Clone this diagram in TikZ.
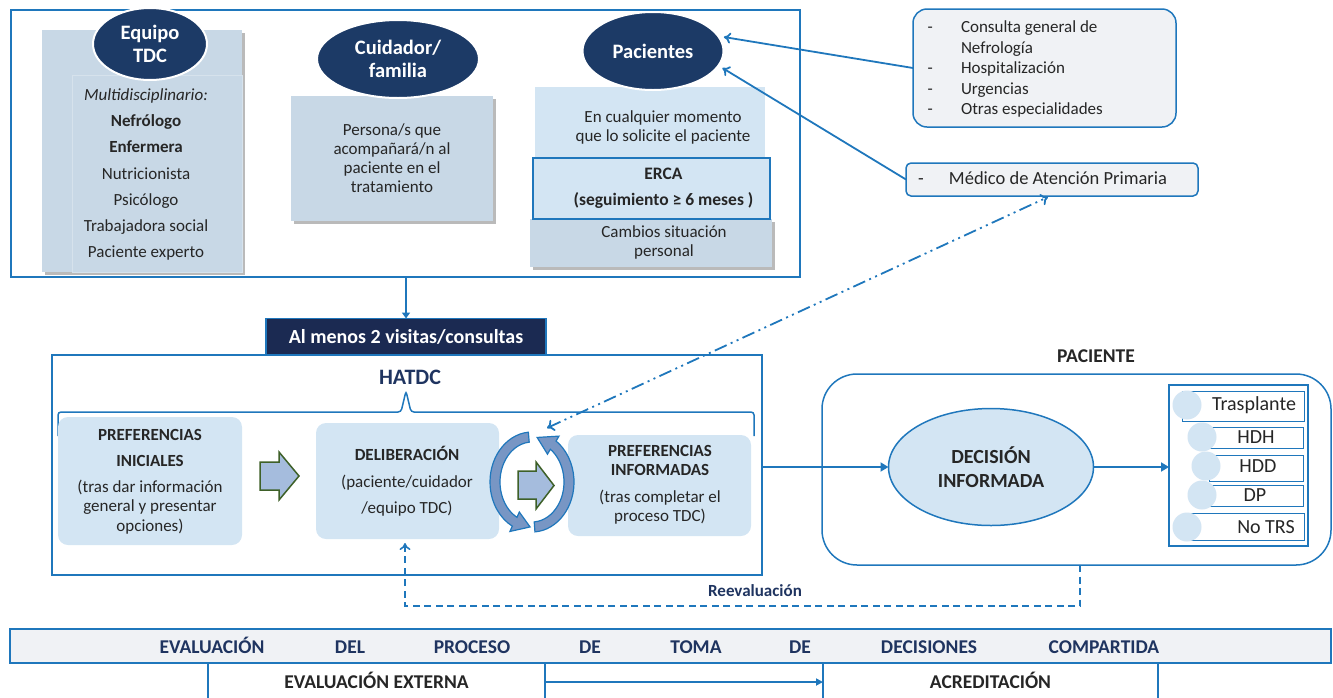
\documentclass[tikz,border=0pt]{standalone}
\usepackage{fontspec}
\setmainfont{Carlito}
\usetikzlibrary{arrows.meta,shapes.geometric,shadows}

\definecolor{tdcblue}{RGB}{31,119,188}
\definecolor{tdcnavy}{RGB}{28,58,102}
\definecolor{tdcdark}{RGB}{27,42,82}
\definecolor{tdctext}{RGB}{31,52,96}
\definecolor{tdcpanel}{RGB}{200,216,230}
\definecolor{tdclight}{RGB}{211,229,243}
\definecolor{tdcgray}{RGB}{240,242,245}
\definecolor{tdcarrow}{RGB}{165,188,221}
\definecolor{tdcgreen}{RGB}{62,96,40}
\definecolor{tdccycle}{RGB}{120,150,196}
\definecolor{tdcink}{RGB}{38,38,38}

\newcommand{\fsz}[2]{\fontsize{#1}{#2}\selectfont}

\begin{document}
\begin{tikzpicture}[x=1pt,y=-1pt,
		every node/.style={inner sep=0pt, outer sep=0pt, text=tdcink},
		frame/.style={draw=tdcblue, line width=1.8pt},
		panel/.style={fill=tdcpanel, drop shadow={shadow xshift=2.5pt, shadow yshift=-2.5pt, fill=black!60, opacity=.45}},
		soft/.style={fill=tdclight, rounded corners=10pt},
		head/.style={ellipse, fill=tdcnavy, draw=white, line width=2pt, text=white, font=\fsz{20.5}{23.5}\bfseries, align=center},
		body/.style={font=\fsz{17}{19}, align=center},
		caps/.style={font=\fsz{19.5}{22}\bfseries, text height=12.6pt, text depth=0pt},
		link/.style={tdcblue, line width=1.8pt},
		option/.style={draw=tdcblue, line width=1pt, fill=white},
		bullet/.style={circle, fill=tdclight, minimum size=29pt},
		bandword/.style={caps, text=tdctext},
		blockarrow/.style={draw=tdcgreen, line width=1.5pt, fill=tdcarrow},
		cyclearrow/.style={draw=tdcblue, line width=1.2pt, fill=tdccycle}]

		\useasboundingbox (0,0) rectangle (1333,697);

		\node[frame, minimum width=789pt, minimum height=267pt] (top) at (405.5,143.5) {};

		\node[panel, minimum width=200pt, minimum height=242pt] (equipo) at (142,151) {};
		\node[fill=tdcpanel, draw=white!25!tdcpanel, line width=.6pt, minimum width=170pt, minimum height=197pt] (equipoin) at (157,173.5) {};
		\node[font=\fsz{17}{26.1}, align=center] (equipolist) at (146,174.5) {\textit{Multidisciplinario:}\\\textbf{Nefrólogo}\\\textbf{Enfermera}\\Nutricionista\\Psicólogo\\Trabajadora social\\Paciente experto};
		\node[head, minimum width=114pt, minimum height=72pt] (tdc) at (150,44) {Equipo\\TDC};

		\node[panel, body, minimum width=202pt, minimum height=125pt] (persona) at (392,158.5) {Persona/s que\\acompañará/n al\\paciente en el\\tratamiento};
		\node[head, minimum width=162pt, minimum height=78pt] (cuidador) at (398,59) {Cuidador/\\familia};

		\node[fill=tdclight, minimum width=230pt, minimum height=70pt] (cualquier) at (650,122) {};
		\node[body] (cualquiertxt) at (663,127.5) {En cualquier momento\\que lo solicite el paciente};
		\node[panel, minimum width=242pt, minimum height=48pt] (cambios) at (651,243) {};
		\node[body] (cambiostxt) at (664,242.5) {Cambios situación\\personal};
		\node[fill=tdclight, draw=tdcblue, line width=2pt, minimum width=237pt, minimum height=61pt] (erca) at (651.5,188.5) {};
		\node[font=\fsz{17.5}{26}\bfseries, align=center] (ercatxt) at (663.5,188) {ERCA\\(seguimiento ≥ 6 meses )};
		\node[head, minimum width=141pt, minimum height=78pt] (pacientes) at (653,51) {Pacientes};

		\node[draw=tdcblue, line width=1.5pt, fill=tdcgray, rounded corners=14pt, minimum width=263pt, minimum height=118pt] (consulta) at (1044.5,68) {};
		\node[anchor=west, font=\fsz{17}{20.5}, align=left] (consultatxt) at (927.5,69) {\makebox[33.5pt][l]{-}Consulta general de\\\hspace*{33.5pt}Nefrología\\\makebox[33.5pt][l]{-}Hospitalización\\\makebox[33.5pt][l]{-}Urgencias\\\makebox[33.5pt][l]{-}Otras especialidades};
		\node[draw=tdcblue, line width=1.5pt, fill=tdcgray, rounded corners=5pt, minimum width=292pt, minimum height=33pt] (medico) at (1052,179.5) {};
		\node[anchor=west, font=\fsz{18.5}{20}] (medicotxt) at (918,178.5) {\makebox[31pt][l]{-}Médico de Atención Primaria};

		\draw[link, -{To[length=7pt,width=11pt]}] (consulta.west) -- ([xshift=5pt]pacientes.12);
		\draw[link, -{To[length=7pt,width=11pt]}] (medico.west) -- ([xshift=6pt]pacientes.-15);

		\node[frame, line width=2pt, minimum width=710pt, minimum height=220pt] (hatdc) at (407,465) {};
		\node[fill=tdcdark, draw=tdcblue, line width=1.5pt, minimum width=280pt, minimum height=36pt, text=white, font=\fsz{20}{22}\bfseries] (visitas) at (406,336.5) {Al menos 2 visitas/consultas};
		\draw[link, -{Triangle[length=6pt,width=8pt]}] (top.south -| visitas.north) -- (visitas.north);
		\node[font=\fsz{22}{24}\bfseries, text=tdctext] (hatdctxt) at (410,377) {HATDC};
		\draw[tdcblue, line width=1.5pt, rounded corners=3pt] (58,436) -- (58,412) -- (401,412) -- (406,391) -- (411,412) -- (754,412) -- (754,436);

		\node[soft, minimum width=184pt, minimum height=128pt] (inicial) at (150,481) {};
		\node[font=\fsz{17}{19.5}, align=center] (inicialtxt) at (150,481.5) {\textbf{PREFERENCIAS}\\[6.5pt]\textbf{INICIALES}\\[6.5pt](tras dar información\\general y presentar\\opciones)};
		\node[soft, minimum width=183pt, minimum height=116pt] (delib) at (407.5,481) {};
		\node[font=\fsz{17}{26.5}, align=center] (delibtxt) at (407,481.5) {\textbf{DELIBERACIÓN}\\(paciente/cuidador\\/equipo TDC)};
		\node[soft, minimum width=183pt, minimum height=101pt] (informada) at (659.5,485.5) {};
		\node[font=\fsz{17}{19}, align=center] (informadatxt) at (660,485) {\textbf{PREFERENCIAS}\\\textbf{INFORMADAS}\\[8pt](tras completar el\\proceso TDC)};

		\filldraw[blockarrow] (260,462) -- (279,462) -- (279,452) -- (299,476) -- (279,500) -- (279,490) -- (260,490) -- cycle;
		\filldraw[blockarrow] (518,471) -- (536,471) -- (536,462) -- (554,485.5) -- (536,509) -- (536,499) -- (518,499) -- cycle;

		\coordinate (cyc) at (532,482);
		\filldraw[cyclearrow] ([shift={(265:42 and 50)}]cyc) arc[start angle=265, end angle=118, x radius=42, y radius=50] -- ([shift={(118:47 and 56)}]cyc) -- ([shift={(93:37 and 45)}]cyc) -- ([shift={(118:27 and 34)}]cyc) -- ([shift={(118:32 and 40)}]cyc) arc[start angle=118, end angle=265, x radius=32, y radius=40] -- cycle;
		\filldraw[cyclearrow] ([shift={(86:42 and 50)}]cyc) arc[start angle=86, end angle=-55, x radius=42, y radius=50] -- ([shift={(-55:47 and 56)}]cyc) -- ([shift={(-82:37 and 45)}]cyc) -- ([shift={(-55:27 and 34)}]cyc) -- ([shift={(-55:32 and 40)}]cyc) arc[start angle=-55, end angle=86, x radius=32, y radius=40] -- cycle;

		\draw[link, dash pattern=on 13pt off 4.5pt on 2pt off 4.5pt on 2pt off 4.5pt, {To[length=7pt,width=12pt]}-{To[length=7pt,width=12pt]}] ([shift={(15,-54)}]cyc) -- ([xshift=-4pt,yshift=-1pt]medico.south);

		\node[ellipse, fill=tdclight, draw=tdcblue, line width=1.5pt, minimum width=205pt, minimum height=117pt, font=\fsz{20}{24}\bfseries, align=center] (decision) at (991,467) {DECISIÓN\\INFORMADA};
		\draw[link, -{Triangle[length=8pt,width=9pt]}] (hatdc.east |- decision.west) -- (decision.west);

		\node[caps] (pacientetxt) at (1096,356) {PACIENTE};
		\node[draw=tdcblue, line width=1.5pt, rounded corners=35pt, minimum width=509pt, minimum height=191pt] (paciente) at (1076.5,469.5) {};
		\node[draw=tdcblue, line width=1.5pt, fill=white, minimum width=139pt, minimum height=161pt] (opciones) at (1238.5,465.5) {};
		\draw[link, -{Triangle[length=8pt,width=9pt]}] (decision.east) -- (opciones.west |- decision.east);

		\foreach \xa/\ya/\xb/\yb/\cx/\cy/\tx/\opt [count=\i] in {1182/391/1304/421/1187/405/1254/Trasplante, 1205/427/1303/448/1202/437/1256/HDH, 1209/455/1303/481/1206/466/1258/HDD, 1205/485/1303/506/1202/495/1255/DP, 1191/513/1304/540/1187/527/1266/No TRS}{
			\draw[option] (\xa,\ya) rectangle (\xb,\yb);
			\node[bullet] (bul\i) at (\cx,\cy) {};
			\node[font=\fsz{20}{22}] (opt\i) at (\tx,\cy) {\opt};
		}

		\coordinate (reevr) at (1080,606);
		\coordinate (reevl) at (405,606);
		\draw[link, line width=1.6pt, dash pattern=on 7pt off 4.5pt, -{To[length=7pt,width=11pt]}] (paciente.south -| reevr) -- (reevr) -- (reevl) -- ([yshift=-4pt]delib.south -| reevl);
		\node[font=\fsz{17}{19}\bfseries, text=tdctext] (reevtxt) at (755,591) {Reevaluación};

		\node[draw=tdcblue, line width=1.5pt, fill=tdcgray, minimum width=1321pt, minimum height=34pt] (banda) at (670.5,646) {};
		\foreach \x/\w [count=\i] in {212/EVALUACIÓN, 350/DEL, 472/PROCESO, 590/DE, 696/TOMA, 800/DE, 929/DECISIONES, 1104/COMPARTIDA}
			\node[bandword] (word\i) at (\x,647) {\w};

		\node[draw=tdcblue, line width=1.5pt, minimum width=337pt, minimum height=38pt, caps] (externa) at (376.5,682) {EVALUACIÓN EXTERNA};
		\node[draw=tdcblue, line width=1.5pt, minimum width=335pt, minimum height=38pt, caps] (acred) at (990.5,682) {ACREDITACIÓN};
		\draw[link, -{Triangle[length=7pt,width=7pt]}] (externa.east) -- (acred.west);
	\end{tikzpicture}
\end{document}
